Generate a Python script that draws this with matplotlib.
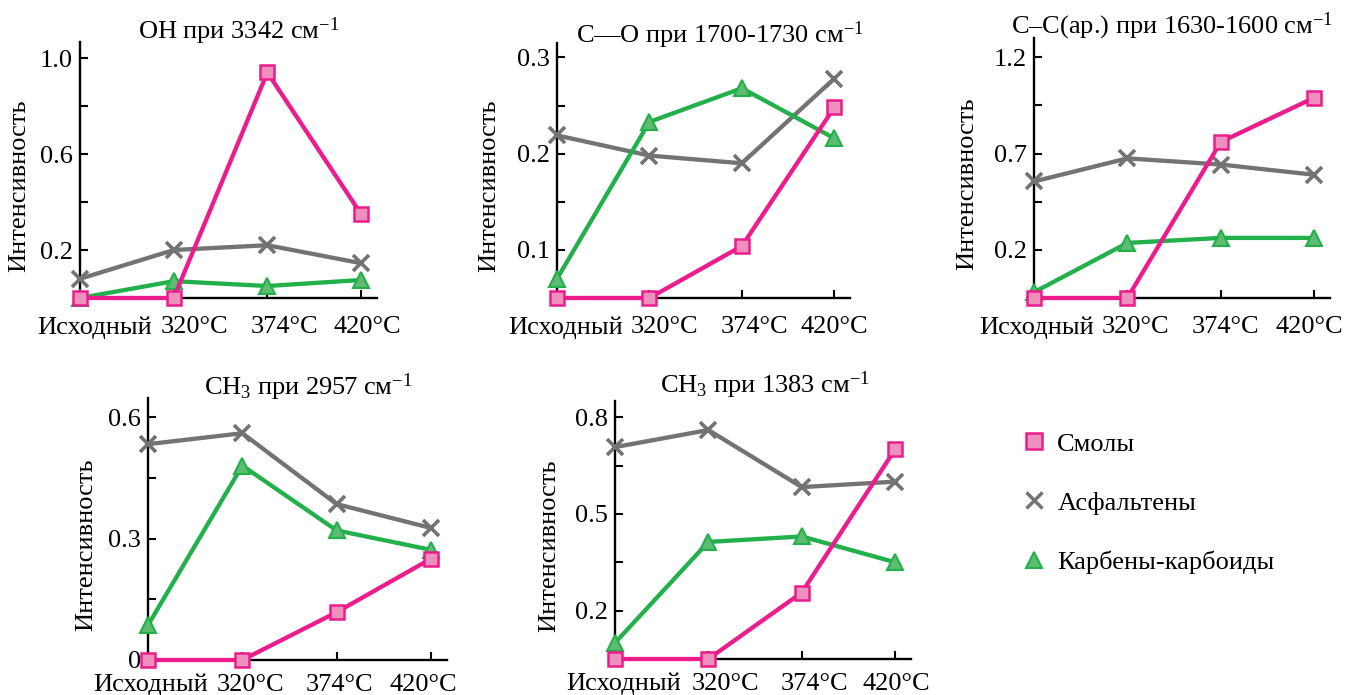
import matplotlib.pyplot as plt
from matplotlib.lines import Line2D
from matplotlib.transforms import ScaledTranslation

plt.rcParams['font.family'] = ['Liberation Serif', 'DejaVu Serif']
plt.rcParams['mathtext.fontset'] = 'custom'
plt.rcParams['mathtext.rm'] = 'Liberation Serif'
plt.rcParams['mathtext.it'] = 'Liberation Serif:italic'
plt.rcParams['font.size'] = 19

# Data
x = [0, 1, 2, 3]
xlabels = ["Исходный", "320°C", "374°C", "420°C"]

titles = [
    "ОН при 3342 см$^{-1}$",
    "C—O при 1700-1730 см$^{-1}$",
    "C–C(ар.) при 1630-1600 см$^{-1}$",
    "CH$_3$ при 2957 см$^{-1}$",
    "CH$_3$ при 1383 см$^{-1}$",
]

resins = [
    [0.0, 0.0, 0.94, 0.35],
    [0.05, 0.05, 0.104, 0.248],
    [-0.05, -0.05, 0.76, 0.99],
    [0.0, 0.0, 0.118, 0.25],
    [0.05, 0.05, 0.256, 0.70],
]
asphaltenes = [
    [0.08, 0.20, 0.22, 0.145],
    [0.219, 0.198, 0.19, 0.278],
    [0.555, 0.675, 0.643, 0.59],
    [0.533, 0.56, 0.385, 0.326],
    [0.707, 0.76, 0.583, 0.60],
]
carbenes = [
    [0.0, 0.07, 0.05, 0.075],
    [0.07, 0.233, 0.268, 0.216],
    [-0.02, 0.236, 0.262, 0.262],
    [0.086, 0.48, 0.32, 0.272],
    [0.10, 0.413, 0.43, 0.35],
]

yticks = [
    [0.2, 0.4, 0.6, 0.8, 1.0],
    [0.1, 0.15, 0.2, 0.25, 0.3],
    [0.2, 0.45, 0.7, 0.95, 1.2],
    [0.0, 0.15, 0.3, 0.45, 0.6],
    [0.2, 0.35, 0.5, 0.65, 0.8],
]
yticklabels = [
    ["0.2", "", "0.6", "", "1.0"],
    ["0.1", "", "0.2", "", "0.3"],
    ["0.2", "", "0.7", "", "1.2"],
    ["0", "", "0.3", "", "0.6"],
    ["0.2", "", "0.5", "", "0.8"],
]
ylims = [(0, 1.067), (0.05, 0.315), (-0.05, 1.30), (0, 0.647), (0.05, 0.85)]

series_names = ["Смолы", "Асфальтены", "Карбены-карбоиды"]

# layout (pixels: left, top, right, bottom)
W, H = 1345, 695
boxes = [
    (80, 42, 377, 298),
    (557, 43, 850, 298),
    (1034, 38, 1330, 298),
    (148, 398, 447, 660),
    (615, 401, 911, 659),
]
title_xy = [(239, 39), (720, 43), (1172, 33), (308, 395), (765, 393)]
ylab_off = [50, 57, 56, 51, 55]
xlab_pads = [13, 13, 13, 10, 10]
xlab_shift = [
    [15, 21, 17, 6],
    [9, 15, 13, 0],
    [3, 8, 5, -5],
    [3, 8, 3, -8],
    [9, 17, 13, 1],
]

pink, pink_face = "#EC1C8C", "#EE90BE"
gray = "#737373"
green, green_face = "#22B04B", "#5DBB72"

fig = plt.figure(figsize=(W / 100, H / 100), dpi=100)

for i, (l, t, r, b) in enumerate(boxes):
    ax = fig.add_axes([l / W, 1 - b / H, (r - l) / W, (b - t) / H])
    ax.plot(x, asphaltenes[i], color=gray, lw=3.1, marker="x", ms=11, mew=2.6,
            clip_on=False, zorder=3)
    ax.plot(x, carbenes[i], color=green, lw=3.1, marker="^", ms=12, mfc=green_face,
            mec=green, mew=1.5, clip_on=False, zorder=4)
    ax.plot(x, resins[i], color=pink, lw=3.1, marker="s", ms=10.5, mfc=pink_face,
            mec=pink, mew=1.8, clip_on=False, zorder=5)

    ax.set_xlim(0, 3.17)
    ax.set_ylim(*ylims[i])
    ax.set_yticks(yticks[i])
    ax.set_yticklabels(yticklabels[i])
    ax.set_xticks(x)
    ax.set_xticklabels(xlabels)
    for spine in ["top", "right"]:
        ax.spines[spine].set_visible(False)
    for spine in ["left", "bottom"]:
        ax.spines[spine].set_linewidth(1.7)
    ax.tick_params(axis="both", direction="in", length=5.5, width=1.5)
    ax.tick_params(axis="y", pad=5)
    ax.tick_params(axis="x", pad=xlab_pads[i])
    for lab, dx in zip(ax.get_xticklabels(), xlab_shift[i]):
        lab.set_transform(lab.get_transform() + ScaledTranslation(dx / 100, 0, fig.dpi_scale_trans))

    tx, ty = title_xy[i]
    fig.text(tx / W, 1 - ty / H, titles[i], fontsize=19, ha="center", va="baseline")
    ax.set_ylabel("Интенсивность", fontsize=19)
    ax.yaxis.set_label_coords(-ylab_off[i] / (r - l), 0.44)

handles = [
    Line2D([], [], ls="none", marker="s", ms=11, mfc=pink_face, mec=pink, mew=1.8),
    Line2D([], [], ls="none", marker="x", ms=11, color=gray, mew=2.5),
    Line2D([], [], ls="none", marker="^", ms=12, mfc=green_face, mec=green, mew=1.5),
]
fig.legend(handles, series_names, loc="center left",
           bbox_to_anchor=(994 / W, 1 - 503 / H), frameon=False,
           fontsize=19, labelspacing=1.35, handletextpad=0.3, handlelength=1.2)

fig.savefig("out.png", dpi=100)
